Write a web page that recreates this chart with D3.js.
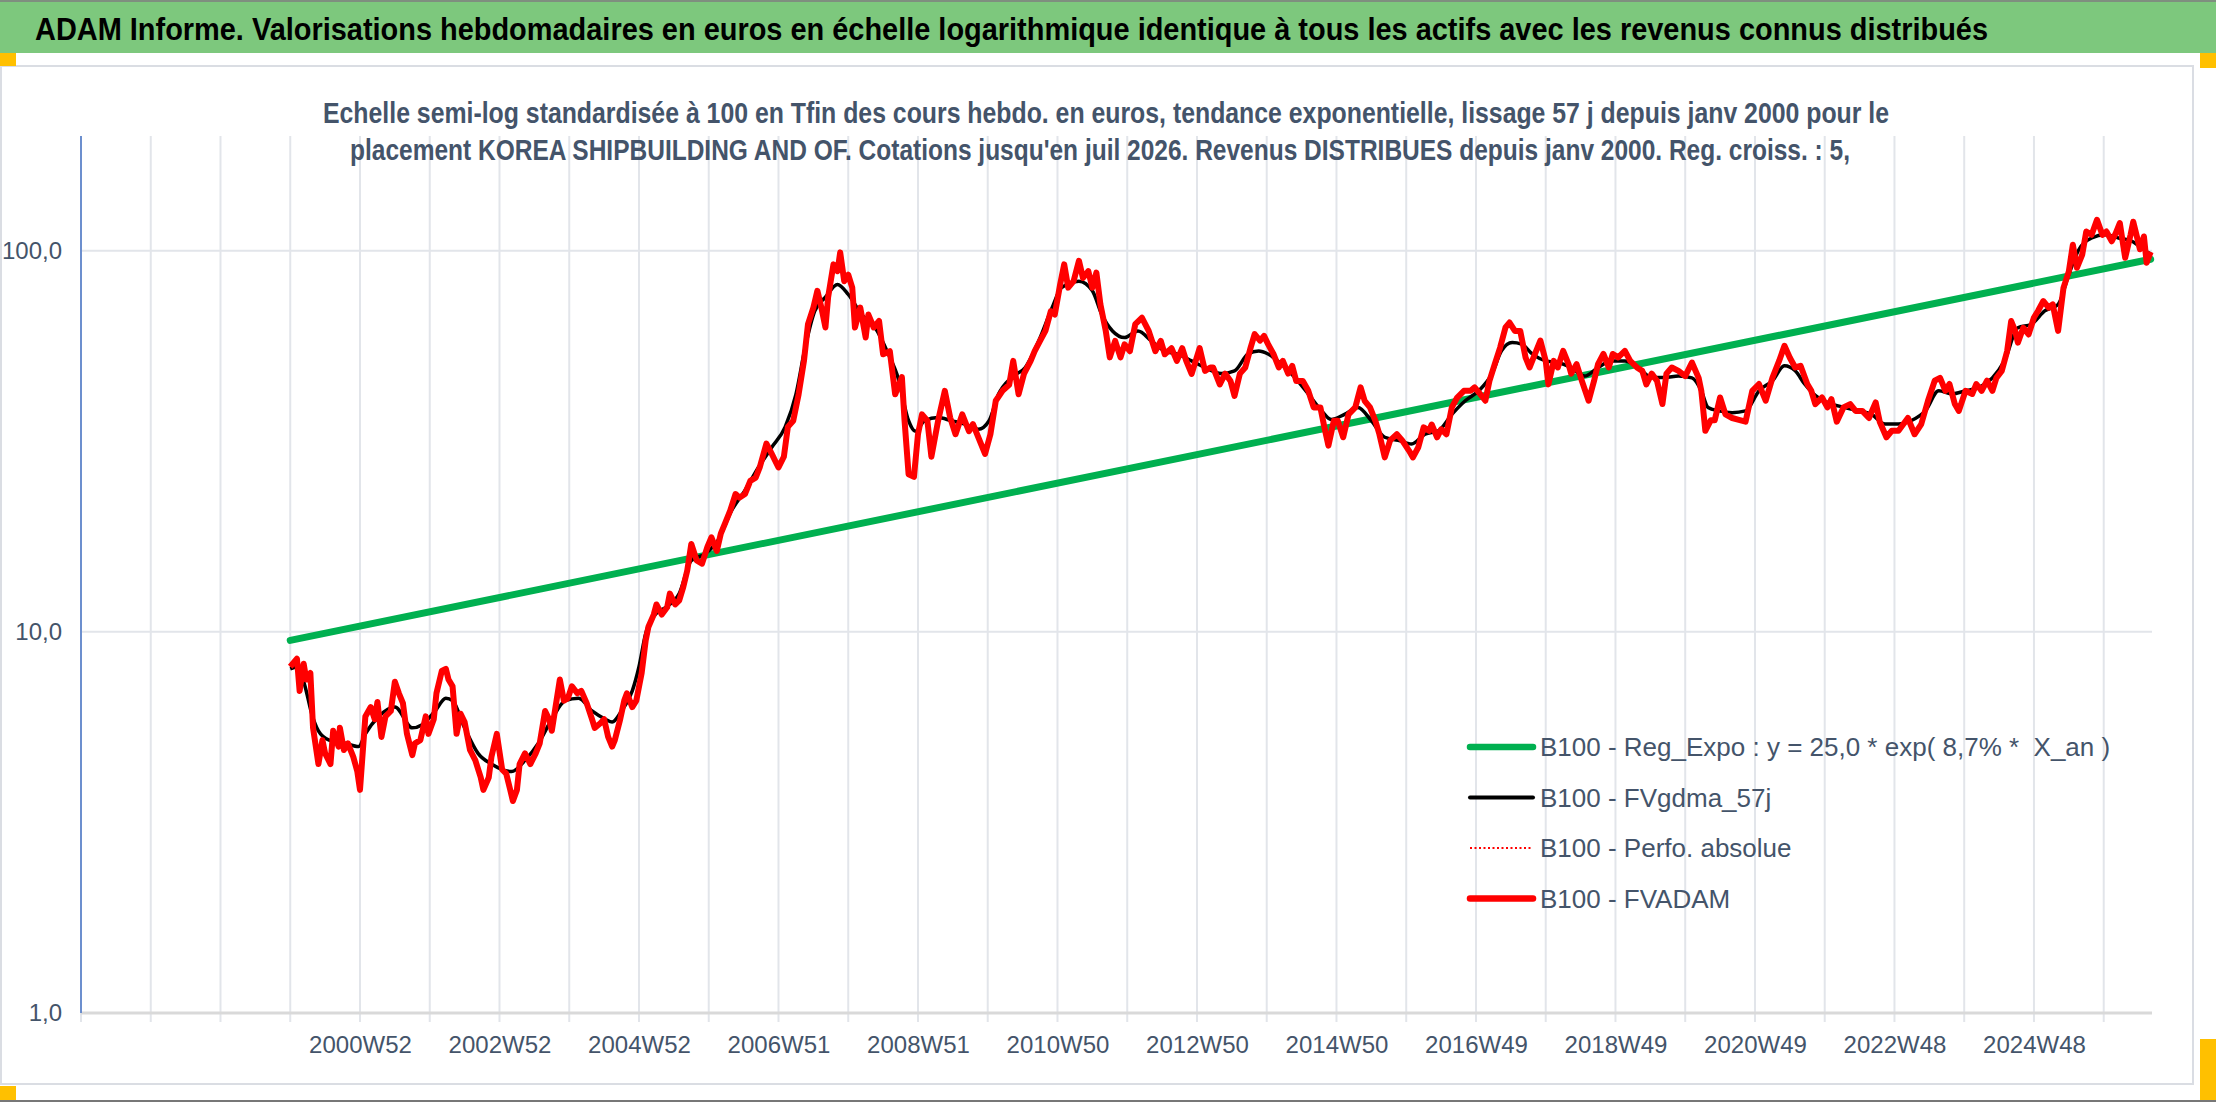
<!DOCTYPE html>
<html>
<head>
<meta charset="utf-8">
<script src="https://cdn.jsdelivr.net/npm/d3@7"></script>
<style>
  body { margin: 0; background: #fff; }
  text { font-family: "Liberation Sans Narrow", "Arial Narrow", "Liberation Sans", sans-serif; }
</style>
</head>
<body>
<div id="plotarea"></div>
<script>
// chart data (weeks counted from 2000W01)
var titleText = "ADAM Informe. Valorisations hebdomadaires en euros en échelle logarithmique identique à tous les actifs avec les revenus connus distribués";
var subtitleLines = [
  "Echelle semi-log standardisée à 100 en Tfin des cours hebdo. en euros, tendance exponentielle, lissage 57 j depuis janv 2000 pour le",
  "placement KOREA SHIPBUILDING AND OF. Cotations jusqu'en juil 2026. Revenus DISTRIBUES depuis janv 2000. Reg. croiss. : 5,"
];
var xTickLabels = ["2000W52","2002W52","2004W52","2006W51","2008W51","2010W50","2012W50","2014W50","2016W49","2018W49","2020W49","2022W48","2024W48"];
var yTicks = [1, 10, 100];
var legendLabels = [
  "B100 - Reg_Expo : y = 25,0 * exp( 8,7% *  X_an )",
  "B100 - FVgdma_57j",
  "B100 - Perfo. absolue",
  "B100 - FVADAM"
];

// regression line (straight on the log scale)
var regWeeks = [0, 1387];
var regValues = [9.5, 95];

// FVADAM weekly valuation (sampled)
var fvWeeks = [0,5,7,10,12,15,17,21,24,26,30,32,36,37,40,43,47,50,52,56,60,63,65,68,71,75,78,81,84,87,91,93,97,101,103,107,109,113,116,118,121,124,127,130,134,138,142,144,148,150,154,158,161,164,166,169,171,175,179,183,186,190,193,195,197,201,204,207,210,214,217,221,225,227,231,234,237,240,242,246,249,251,255,258,262,265,267,271,273,277,281,283,287,290,293,296,299,303,307,311,314,318,321,324,328,332,335,339,343,347,350,
  355,359,364,368,371,375,379,383,386,390,393,396,399,401,405,408,410,413,416,419,421,425,429,431,435,439,442,447,451,456,458,461,465,468,471,475,478,483,488,492,496,501,506,509,513,518,522,526,531,536,539,543,547,552,555,559,563,567,570,574,577,580,584,588,591,595,598,601,604,608,611,615,619,622,626,630,635,640,645,649,652,657,661,665,668,672,678,682,686,
  688,693,697,701,704,708,712,716,719,723,726,729,733,737,740,744,747,750,755,759,763,768,771,774,778,781,785,789,794,798,801,805,809,812,816,820,825,829,834,837,841,845,849,851,855,858,862,866,870,875,880,883,887,891,894,898,902,906,909,913,917,921,924,928,932,936,938,942,945,949,953,955,959,963,968,972,975,979,983,986,990,995,999,1004,1008,1011,1015,1019,1023,1026,1030,
  1035,1040,1045,1050,1052,1055,1059,1062,1066,1070,1075,1080,1085,1090,1095,1100,1105,1110,1114,1118,1122,1126,1131,1134,1137,1142,1146,1149,1153,1158,1163,1167,1172,1177,1182,1185,1190,1194,1199,1206,1211,1216,1221,1226,1230,1234,1237,1241,1244,1249,1254,1257,1261,1265,1269,1272,1276,1280,1283,1286,1288,1292,1296,1300,1303,1307,1311,1314,1318,1322,1326,1329,1332,1336,1339,1343,1347,1351,1354,1358,1361,1364,1368,1372,1374,1377,1379,1382,1384,1387];
var fvadam = [8.1,8.5,7.0,8.25,7.5,7.8,5.6,4.5,5.2,4.8,4.5,5.5,5.0,5.6,4.9,5.1,4.7,4.3,3.85,6.0,6.35,5.9,6.55,5.3,6.0,6.2,7.4,6.9,6.5,5.4,4.75,5.1,5.2,6.0,5.4,5.9,6.9,7.9,8.0,7.5,7.2,5.4,6.1,5.8,4.9,4.6,4.15,3.85,4.15,4.7,5.4,4.35,4.25,3.85,3.6,3.85,4.5,4.8,4.5,4.8,5.1,6.2,5.9,5.5,6.1,7.5,6.6,6.7,7.2,6.9,7.0,6.5,5.9,5.6,5.75,5.9,5.3,5.0,5.2,5.9,6.6,6.9,6.35,6.6,7.8,9.5,10.3,11.1,11.8,11.1,11.6,12.6,11.8,12.1,13.1,14.5,17.0,15.4,15.1,16.7,17.7,16.3,18.1,19.2,20.8,23.0,22.5,23.0,24.9,25.4,27.0,
  31.2,29.3,27.0,28.8,34.5,35.8,42.0,51.4,64.2,70.9,78.5,70.9,62.9,75.5,92.1,88.4,99.0,83.2,86.5,80.0,62.9,70.9,59.2,68.0,62.9,65.4,53.5,54.5,42.0,46.6,35.8,25.9,25.5,33.0,37.2,35.8,28.8,35.8,42.9,36.5,33.0,37.2,33.6,35.1,32.4,29.3,33.0,40.4,42.9,44.5,51.4,42.0,47.5,51.4,54.5,58.0,61.6,69.4,68.0,81.6,92.1,80.0,83.2,94.1,84.8,88.4,80.0,87.6,72.3,61.6,52.5,58.0,52.5,56.8,54.5,64.2,66.7,61.6,54.5,58.0,53.5,55.5,51.4,55.5,51.4,47.5,55.5,48.4,49.4,
  49.4,44.6,47.6,45.5,41.6,47.6,49.4,55.7,60.4,58.1,59.8,56.9,53.6,49.4,51.4,47.6,49.9,45.5,45.5,42.9,38.8,38.8,34.4,30.8,35.8,35.8,32.4,37.2,38.8,43.8,40.4,38.8,35.8,33.0,28.7,31.8,33.0,31.8,29.9,28.7,30.5,34.4,33.7,35.0,32.4,34.0,33.0,38.8,41.2,42.9,42.9,43.8,42.1,40.4,45.5,50.4,55.7,62.9,64.8,61.6,61.6,52.4,49.4,53.6,58.1,51.4,44.6,51.4,49.4,54.6,50.4,47.6,50.4,45.5,40.4,45.5,50.4,53.6,49.4,53.6,52.5,54.6,51.4,49.4,48.4,44.6,47.6,45.5,39.6,47.6,49.4,
  48.4,46.9,50.9,46.4,42.9,33.7,35.9,35.9,41.2,37.2,36.4,36.0,35.6,42.9,44.7,40.4,46.4,51.4,56.3,52.4,49.4,49.9,44.7,42.9,39.6,41.2,38.8,40.8,35.6,38.8,39.6,38.0,38.0,36.4,40.0,35.6,32.4,33.7,33.7,36.4,33.0,35.1,40.4,45.6,46.4,42.9,44.7,39.6,38.0,42.9,42.1,44.7,42.9,45.6,42.9,46.4,48.4,54.5,65.4,61.6,57.4,62.8,60.3,66.8,69.5,73.8,70.9,72.3,61.6,79.9,88.3,103.7,90.2,97.7,112.3,110.1,120.6,110.1,112.3,105.9,111.2,118.2,95.8,110.1,119.1,108.0,100.9,109.0,93.0,99.3];

// FVgdma_57j smoothed line (sampled)
var smWeeks = [0,6,11,16,21,29,41,51,56,66,78,91,98,108,116,121,130,140,150,165,175,185,195,205,215,225,235,240,247,255,260,265,272,280,290,299,309,319,329,339,349,359,369,377,384,391,399,408,416,426,436,446,453,461,466,473,483,493,503,513,521,528,538,548,558,568,575,588,598,605,613,622,632,642,652,662,672,682,694,704,714,722,729,739,749,759,769,776,786,796,806,816,826,836,846,856,866,876,886,896,903,911,918,926,936,945,955,965,975,985,995,1005,1015,1025,1035,1045,1052,1057,1065,1075,1085,1095,1105,1114,1122,1129,1139,1149,1159,1169,1179,1189,1199,1209,1219,1229,1239,1249,1259,1269,1278,1288,1298,1308,1318,1326,1333,1343,1353,1363,1373,1383,1387];
var fvgdma = [8.0,8.1,7.2,6.1,5.5,5.2,5.1,5.0,5.4,6.0,6.35,5.6,5.7,6.2,6.7,6.6,5.6,4.8,4.5,4.3,4.6,5.1,5.9,6.6,6.7,6.2,5.9,5.8,6.2,7.0,8.1,9.9,11.1,11.6,12.6,15.4,16.0,17.4,20.8,23.5,27.0,30.5,34.5,42.0,56.0,69.4,75.5,81.6,76.8,68.0,62.9,53.5,46.6,35.8,33.6,35.8,36.5,35.8,35.1,34.0,35.8,42.0,46.6,49.4,58.0,70.9,80.0,83.2,78.5,68.0,61.6,59.2,61.6,58.0,54.5,53.5,51.4,49.4,47.6,48.4,53.6,54.6,53.6,50.4,46.5,42.1,38.0,36.1,37.2,38.8,35.8,32.4,31.8,31.1,33.0,33.7,37.2,40.4,42.9,47.6,54.6,57.4,56.9,53.6,51.4,50.9,49.4,46.9,49.4,51.4,51.4,49.4,46.5,46.5,46.9,46.4,42.9,38.8,38.0,37.6,38.0,42.9,45.6,49.9,48.4,44.7,41.2,39.6,38.8,38.0,37.2,35.1,35.1,35.9,38.0,42.9,42.1,42.9,43.8,46.4,51.4,62.8,64.1,69.5,72.3,86.7,100,108.0,110.1,108.0,105.9,100,98];

// set the dimensions of the page
var W = 2216, H = 1102;
var plot = {left: 81, right: 2152, top: 136, bottom: 1013};
var startCat = 156;      // data begins 3 year-ticks after the axis start
var totalCats = 1544;

var svg = d3.select("#plotarea")
  .append("svg")
    .attr("width", W)
    .attr("height", H);

// frame, green title band and little orange handles
svg.append("rect").attr("x", 0).attr("y", 0).attr("width", W).attr("height", H).attr("fill", "#fff");
svg.append("rect").attr("x", 0).attr("y", 0).attr("width", W).attr("height", 53).attr("fill", "#7DC87D");
svg.append("rect").attr("x", 0).attr("y", 0).attr("width", W).attr("height", 2).attr("fill", "#7f8f7f");
svg.append("rect").attr("x", 1).attr("y", 66).attr("width", 2192).attr("height", 1018)
  .attr("fill", "none").attr("stroke", "#DADDE3").attr("stroke-width", 2);
svg.append("rect").attr("x", 0).attr("y", H - 2).attr("width", W).attr("height", 2).attr("fill", "#777");
var orange = "#FFC000";
svg.append("rect").attr("x", 0).attr("y", 53).attr("width", 16).attr("height", 13).attr("fill", orange);
svg.append("rect").attr("x", 0).attr("y", 1086).attr("width", 16).attr("height", 14).attr("fill", orange);
svg.append("rect").attr("x", 2200).attr("y", 53).attr("width", 16).attr("height", 15).attr("fill", orange);
svg.append("rect").attr("x", 2200).attr("y", 1039).attr("width", 16).attr("height", 61).attr("fill", orange);

svg.append("text")
  .attr("x", 35).attr("y", 40)
  .attr("textLength", 1953).attr("lengthAdjust", "spacingAndGlyphs")
  .style("font-size", "32px").style("font-weight", "bold").style("fill", "#000")
  .text(titleText);

// scales
var x = d3.scaleLinear().domain([0, totalCats]).range([plot.left, plot.right]);
var y = d3.scaleLog().domain([1, 200]).range([plot.bottom, plot.top]);
function xw(w) { return x(startCat + w); }

// vertical gridlines, one per 52 weeks
var gridCats = d3.range(0, totalCats, 52);
svg.append("g").selectAll("line").data(gridCats).enter().append("line")
  .attr("x1", function(d) { return x(d); }).attr("x2", function(d) { return x(d); })
  .attr("y1", plot.top).attr("y2", plot.bottom + 9)
  .attr("stroke", "#E2E5EA").attr("stroke-width", 2);

// horizontal gridlines
svg.append("g").selectAll("line").data(yTicks).enter().append("line")
  .attr("x1", plot.left).attr("x2", plot.right)
  .attr("y1", function(d) { return y(d); }).attr("y2", function(d) { return y(d); })
  .attr("stroke", function(d) { return d === 1 ? "#D9D9D9" : "#E2E5EA"; })
  .attr("stroke-width", function(d) { return d === 1 ? 3 : 2; });

// subtitle sits over the gridlines
var subX = [323, 350], subW = [1566, 1500], subY = [123, 160];
subtitleLines.forEach(function(s, i) {
  svg.append("text")
    .attr("x", subX[i]).attr("y", subY[i])
    .attr("textLength", subW[i]).attr("lengthAdjust", "spacingAndGlyphs")
    .style("font-size", "29px").style("font-weight", "bold").style("fill", "#44546A")
    .text(s);
});

// X axis labels (every 104 weeks)
var labelCats = xTickLabels.map(function(d, i) { return 208 + 104 * i; });
var xAxis = d3.axisBottom(x)
  .tickValues(labelCats)
  .tickSize(0)
  .tickPadding(23)
  .tickFormat(function(d, i) { return xTickLabels[i]; });
var gx = svg.append("g")
  .attr("transform", "translate(0," + plot.bottom + ")")
  .call(xAxis);
gx.select(".domain").remove();
gx.selectAll("text").style("font-size", "24px").style("fill", "#44546A")
  .style("font-family", "'Liberation Sans Narrow', 'Arial Narrow', sans-serif");

// Y axis
var fr = d3.formatLocale({decimal: ",", thousands: " ", grouping: [3], currency: ["", " €"]});
var yAxis = d3.axisLeft(y).tickValues(yTicks).tickSize(0).tickPadding(19).tickFormat(fr.format(".1f"));
var gy = svg.append("g").attr("transform", "translate(" + plot.left + ",0)").call(yAxis);
gy.select(".domain").remove();
gy.selectAll("text").style("font-size", "24px").style("fill", "#44546A")
  .style("font-family", "'Liberation Sans Narrow', 'Arial Narrow', sans-serif");
svg.append("line")
  .attr("x1", plot.left).attr("x2", plot.left).attr("y1", plot.top).attr("y2", plot.bottom)
  .attr("stroke", "#4472C4").attr("stroke-width", 1.5);

// series
var fvData = fvWeeks.map(function(w, i) { return {w: w, v: fvadam[i]}; });
var smData = smWeeks.map(function(w, i) { return {w: w, v: fvgdma[i]}; });
var regData = regWeeks.map(function(w, i) { return {w: w, v: regValues[i]}; });

var line = d3.line()
  .x(function(d) { return xw(d.w); })
  .y(function(d) { return y(d.v); });

svg.append("path").datum(regData).attr("d", line)
  .attr("fill", "none").attr("stroke", "#00B050").attr("stroke-width", 7).attr("stroke-linecap", "round");

svg.append("path").datum(fvData).attr("d", line)
  .attr("fill", "none").attr("stroke", "#FF0000").attr("stroke-width", 1.5).attr("stroke-dasharray", "2,2");

svg.append("path").datum(smData).attr("d", line.curve(d3.curveMonotoneX))
  .attr("fill", "none").attr("stroke", "#000").attr("stroke-width", 3.5);
line.curve(d3.curveLinear);

svg.append("path").datum(fvData).attr("d", line)
  .attr("fill", "none").attr("stroke", "#FF0000").attr("stroke-width", 6)
  .attr("stroke-linejoin", "round");

// legend
var legendStyles = [
  {color: "#00B050", width: 6.5, dash: null},
  {color: "#000000", width: 4, dash: null},
  {color: "#FF0000", width: 2, dash: "2,2.5"},
  {color: "#FF0000", width: 6.5, dash: null}
];
var leg = svg.append("g").attr("transform", "translate(1470,747)");
legendLabels.forEach(function(s, i) {
  var g = leg.append("g").attr("transform", "translate(0," + (i * 50.5) + ")");
  g.append("line").attr("x1", 0).attr("x2", 63).attr("y1", 0).attr("y2", 0)
    .attr("stroke", legendStyles[i].color).attr("stroke-width", legendStyles[i].width)
    .attr("stroke-linecap", legendStyles[i].dash ? "butt" : "round")
    .attr("stroke-dasharray", legendStyles[i].dash);
  g.append("text").attr("x", 70).attr("y", 9)
    .style("font-size", "26px").style("fill", "#44546A").style("white-space", "pre")
    .text(s);
});
</script>
</body>
</html>
